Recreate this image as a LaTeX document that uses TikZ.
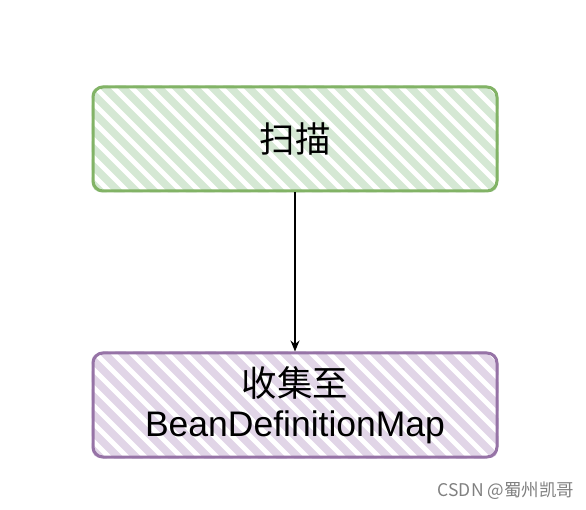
\documentclass[tikz,border=0pt]{standalone}
\usepackage{fontspec}
\setmainfont{Liberation Sans}
\newfontfamily\cjk{Noto Sans CJK SC}
\usetikzlibrary{arrows.meta,backgrounds}
\definecolor{scanfill}{HTML}{D5E8D4}
\definecolor{scanline}{HTML}{82B366}
\definecolor{mapfill}{HTML}{E1D5E7}
\definecolor{mapline}{HTML}{9673A6}

\begin{document}
\begin{tikzpicture}[x=1pt,y=-1pt,
  box/.style={draw,line width=3pt,rounded corners=10pt,minimum width=404pt,
    minimum height=104pt,align=center,font=\fontsize{35.5}{40}\selectfont},
  hatch/.style={line width=7.5pt}]
\useasboundingbox (0,0) rectangle (586,510);

\node[box,scanline] (scan) at (295,139) {\color{black}\cjk 扫描};
\node[box,mapline] (collect) at (295,405) {\color{black}{\cjk 收集至}\\\color{black}BeanDefinitionMap};

% hatched fill of both boxes
\begin{scope}[on background layer]
\begin{scope}
\clip[rounded corners=10pt] (scan.north west) rectangle (scan.south east);
\foreach \k in {0,...,30}
  \draw[hatch,scanfill] ([xshift=\k*18pt-120pt,yshift=5pt]scan.north west) -- ++(120,120);
\end{scope}
\begin{scope}
\clip[rounded corners=10pt] (collect.north west) rectangle (collect.south east);
\foreach \k in {0,...,30}
  \draw[hatch,mapfill] ([xshift=\k*18pt-120pt,yshift=5pt]collect.north west) -- ++(120,120);
\end{scope}
\end{scope}

\draw[-{Stealth[length=11pt,width=9pt]},line width=1.3pt] (scan) -- (collect);

\node[gray,font=\cjk\fontsize{17.5}{20}\selectfont] (mark) at (506,491) {CSDN @蜀州凯哥};
\end{tikzpicture}
\end{document}
